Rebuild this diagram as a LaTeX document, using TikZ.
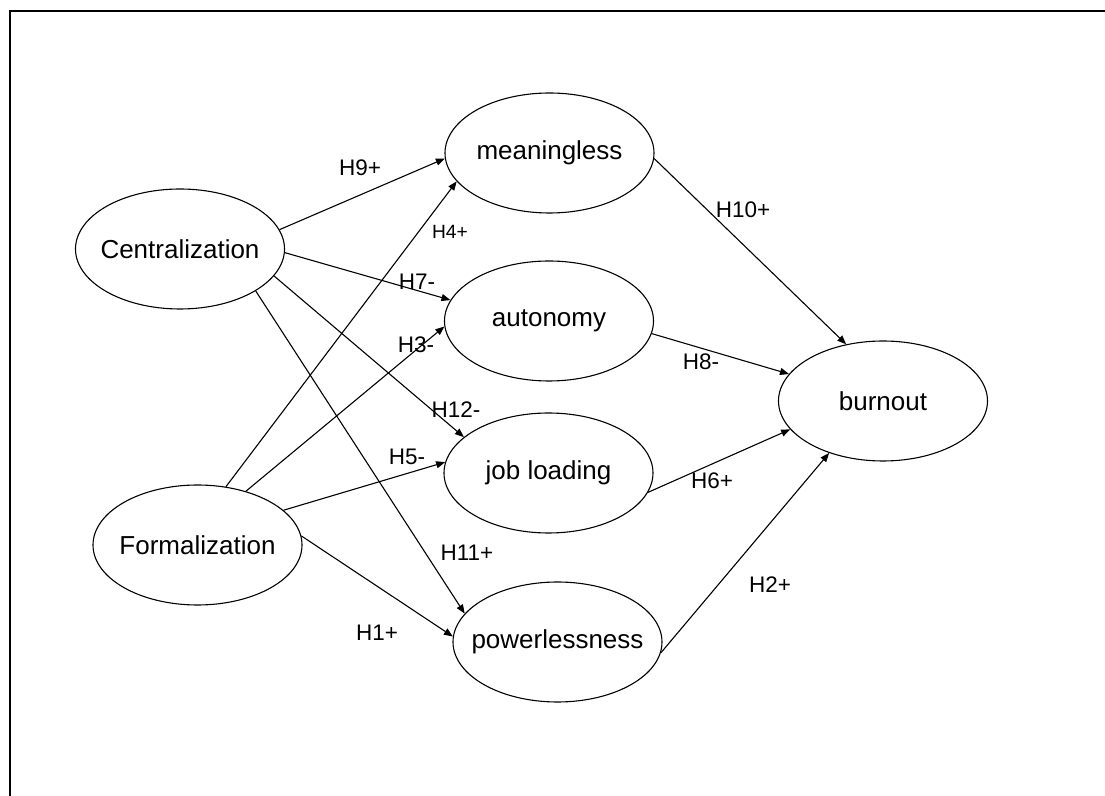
\documentclass[tikz,border=0pt]{standalone}
\usepackage{fontspec}
\setmainfont{Liberation Sans}
\usetikzlibrary{shapes.geometric,arrows.meta}
\newcommand{\zw}[1]{\makebox[0pt]{#1}}
\begin{document}
\begin{tikzpicture}[x=0.5pt,y=-0.5pt,
  var/.style={ellipse,draw,line width=0.55pt,minimum width=104.5pt,minimum height=60pt,inner sep=0pt,font=\fontsize{13}{15}\selectfont},
  link/.style={draw,line width=0.55pt,-{Triangle[length=4.5pt,width=3.5pt]}},
  hyp/.style={font=\fontsize{11.25}{13}\selectfont,inner sep=0pt},
  hypsmall/.style={font=\fontsize{9.6}{11}\selectfont,inner sep=0pt}]
\useasboundingbox (0,0) rectangle (1105,796);
\draw[line width=1pt] (9.7,800) -- (9.7,11) -- (1110,11);

\node[var] (cent) at (180,249) {\zw{Centralization}};
\node[var] (form) at (197.5,545) {\zw{Formalization}};
\node[var] (mean) at (549.5,153) {\zw{meaningless}};
\node[var] (auto) at (549,321) {\zw{autonomy}};
\node[var] (job) at (548.5,473) {\zw{job loading}};
\node[var] (power) at (557.5,642) {\zw{powerlessness}};
\node[var] (burn) at (883,401) {\zw{burnout}};

\draw[link] (cent.11) -- (mean.183);
\draw[link] (cent.-2) -- (auto.168);
\draw[link] (cent.-16) -- (job.157);
\draw[link] (cent.-29) -- (power.163);
\draw[link] (form.64) -- (mean.197);
\draw[link] (form.48) -- (auto.183);
\draw[link] (form.22) -- (job.174);
\draw[link] (form.5.5) -- (power.177);
\draw[link] (mean.-3) -- (burn.123);
\draw[link] (auto.-7) -- (burn.164);
\draw[link] (job.-11) -- (burn.197);
\draw[link] (power.-6) -- (burn.224);

\node[hyp] (l9) at (360,168) {H9+};
\node[hypsmall] (l4) at (450,232) {H4+};
\node[hyp] (l7) at (417,282) {H7-};
\node[hyp] (l3) at (416,345) {H3-};
\node[hyp] (l12) at (456,410) {H12-};
\node[hyp] (l5) at (407,457) {H5-};
\node[hyp] (l11) at (467,553) {H11+};
\node[hyp] (l1) at (377,633) {H1+};
\node[hyp] (l10) at (743,210) {H10+};
\node[hyp] (l8) at (701,362) {H8-};
\node[hyp] (l6) at (712,481) {H6+};
\node[hyp] (l2) at (770,585) {H2+};
\end{tikzpicture}
\end{document}
